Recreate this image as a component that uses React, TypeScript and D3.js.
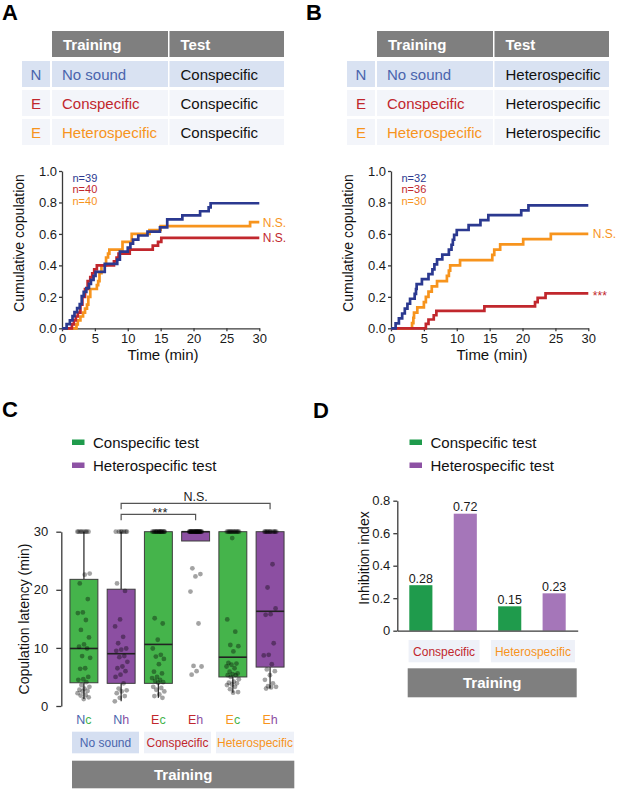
import { useEffect, useRef } from 'react';
import * as d3 from 'd3';

const FONT = '"Liberation Sans", Arial, Helvetica, sans-serif';

const BLUE = '#2b3990';
const RED = '#c1272d';
const ORANGE = '#f7941d';
const TXT_BLUE = '#4a65ad';
const GREY = '#7f7f7f';
const GREEN_BOX = '#45b44b';
const PURPLE_BOX = '#8c4fa2';
const GREEN_KEY = '#1f9b4c';
const PURPLE_KEY = '#8d52a4';
const GREEN_BAR = '#1f9b4c';
const PURPLE_BAR = '#a576b9';

// tables A and B
const tableHead = ['Training', 'Test'];
const trainCodes = ['N', 'E', 'E'];
const trainNames = ['No sound', 'Conspecific', 'Heterospecific'];
const trainColors = [TXT_BLUE, RED, ORANGE];
const testA = 'Conspecific';
const testB = 'Heterospecific';

// cumulative copulation: [minute, fraction] at each step
const aNoSound: [number, number][] = [
  [0.7, 0.026], [1.2, 0.051], [1.6, 0.077], [1.9, 0.103], [2.3, 0.128], [2.7, 0.154],
  [3.0, 0.205], [3.3, 0.231], [3.7, 0.256], [4.1, 0.282], [4.4, 0.308], [4.8, 0.333],
  [5.1, 0.359], [6.5, 0.41], [8.4, 0.436], [8.8, 0.487], [10.0, 0.513], [10.4, 0.538],
  [10.8, 0.564], [11.6, 0.59], [13.0, 0.615], [14.9, 0.641], [16.0, 0.692], [18.3, 0.718],
  [21.0, 0.744], [22.3, 0.769], [22.6, 0.795],
];
const aConspecific: [number, number][] = [
  [1.5, 0.025], [1.8, 0.05], [2.1, 0.075], [2.4, 0.1], [2.8, 0.15], [3.1, 0.2], [3.5, 0.25],
  [3.9, 0.3], [4.3, 0.325], [4.6, 0.35], [4.9, 0.375], [5.3, 0.4], [7.9, 0.425], [8.3, 0.45],
  [8.6, 0.475], [10.3, 0.5], [13.8, 0.525], [14.6, 0.55], [15.1, 0.575],
];
const aHeterospecific: [number, number][] = [
  [2.2, 0.025], [2.4, 0.05], [2.8, 0.075], [3.2, 0.1], [3.5, 0.125], [3.8, 0.15], [4.0, 0.2],
  [4.3, 0.25], [5.3, 0.275], [5.5, 0.3], [5.7, 0.35], [6.0, 0.4], [6.7, 0.45], [7.0, 0.475],
  [7.2, 0.5], [9.2, 0.55], [10.6, 0.6], [13.3, 0.625], [15.0, 0.65], [28.6, 0.675],
];
const bNoSound: [number, number][] = [
  [0.7, 0.031], [1.2, 0.063], [1.7, 0.094], [2.1, 0.125], [2.5, 0.156], [2.9, 0.188],
  [3.6, 0.219], [3.8, 0.25], [3.9, 0.281], [4.7, 0.313], [5.7, 0.344], [6.3, 0.375],
  [6.6, 0.406], [7.0, 0.438], [7.8, 0.469], [8.8, 0.5], [9.2, 0.531], [9.4, 0.563],
  [9.6, 0.594], [10.0, 0.625], [11.8, 0.656], [13.6, 0.688], [14.8, 0.719], [19.8, 0.75],
  [20.9, 0.781],
];
const bConspecific: [number, number][] = [
  [5.3, 0.028], [5.7, 0.056], [6.5, 0.083], [6.9, 0.111], [14.2, 0.139], [21.9, 0.167],
  [22.3, 0.194], [23.5, 0.222],
];
const bHeterospecific: [number, number][] = [
  [3.2, 0.033], [3.4, 0.067], [3.5, 0.1], [4.0, 0.133], [5.0, 0.167], [5.3, 0.2], [5.7, 0.233],
  [6.2, 0.267], [7.0, 0.3], [8.5, 0.333], [8.8, 0.367], [9.0, 0.4], [10.5, 0.433],
  [15.4, 0.467], [15.7, 0.5], [16.6, 0.533], [20.1, 0.567], [24.3, 0.6],
];
const lineColors = [BLUE, RED, ORANGE];
const aCounts = ['n=39', 'n=40', 'n=40'];
const bCounts = ['n=32', 'n=36', 'n=30'];
const aMarks = ['', 'N.S.', 'N.S.'];
const bMarks = ['', '***', 'N.S.'];
const timeTicks = [0, 5, 10, 15, 20, 25, 30];
const fracTicks = [0, 0.2, 0.4, 0.6, 0.8, 1.0];

// panel C: copulation latency (min), 30 = no copulation
const cKeys = ['Nc', 'Nh', 'Ec1', 'Eh1', 'Ec2', 'Eh2'];
const cTrainLetter = ['N', 'N', 'E', 'E', 'E', 'E'];
const cTestLetter = ['c', 'h', 'c', 'h', 'c', 'h'];
const cTrainColor = [TXT_BLUE, TXT_BLUE, RED, RED, ORANGE, ORANGE];
const cTestColor = [GREEN_BOX, PURPLE_BOX, GREEN_BOX, PURPLE_BOX, GREEN_BOX, PURPLE_BOX];
const boxLow = [1.2, 0.8, 1.4, 28.4, 2.3, 3.0];
const boxQ1 = [4.0, 3.9, 3.9, 28.4, 5.0, 6.7];
const boxMedian = [9.9, 9.0, 10.6, 30, 8.4, 16.3];
const boxQ3 = [21.8, 20.1, 30, 30, 30, 30];
const boxHigh = [30, 30, 30, 30, 30, 30];
const latNc = [30, 30, 30, 30, 30, 30, 30, 30, 22.8, 22.6, 21.1, 18.4, 16.1, 16.0, 14.8, 13.1,
  11.8, 10.6, 10.2, 9.9, 8.6, 8.3, 6.5, 6.4, 5.0, 4.6, 4.5, 4.1, 3.6, 3.3, 3.0, 2.8, 2.6, 2.5,
  2.2, 1.9, 1.8, 1.5, 1.2];
const latNh = [30, 30, 30, 30, 30, 30, 30, 21.1, 19.8, 14.9, 13.7, 11.9, 10.8, 9.9, 9.7, 9.5,
  8.6, 8.4, 7.6, 6.8, 6.5, 6.0, 5.4, 5.0, 3.9, 3.0, 2.7, 2.5, 2.2, 1.7, 1.4, 0.8];
const latEcCon = [30, 30, 30, 30, 30, 30, 30, 30, 30, 30, 30, 30, 30, 30, 30, 30, 30, 15.1, 14.2,
  11.4, 9.9, 8.8, 8.5, 8.1, 7.2, 5.9, 5.6, 5.0, 4.8, 4.5, 4.3, 4.1, 4.0, 3.3, 3.1, 2.8, 2.5, 2.0,
  1.7, 1.4];
const latEhCon = [30, 30, 30, 30, 30, 30, 30, 30, 30, 30, 30, 30, 30, 30, 30, 30, 30, 30, 30, 30,
  30, 30, 30, 30, 30, 30, 30, 23.7, 22.7, 22.3, 19.7, 14.2, 6.9, 6.8, 6.0, 5.4];
const latEcHet = [30, 30, 30, 30, 30, 30, 30, 30, 30, 30, 30, 30, 30, 28.9, 14.9, 12.8, 10.5,
  10.3, 9.4, 7.4, 7.3, 7.1, 6.8, 6.5, 5.9, 5.6, 5.5, 5.3, 5.3, 5.0, 4.6, 4.2, 4.0, 3.9, 3.7, 3.6,
  3.3, 2.9, 2.4, 2.3];
const latEhHet = [30, 30, 30, 30, 30, 30, 30, 30, 30, 30, 30, 30, 24.4, 20.4, 16.8, 15.8, 15.7,
  10.8, 8.8, 8.7, 7.2, 6.3, 6.0, 5.3, 4.5, 3.9, 3.4, 3.3, 3.2, 3.0];
const cPoints = [latNc, latNh, latEcCon, latEhCon, latEcHet, latEhHet];
const cGroups = ['No sound', 'Conspecific', 'Heterospecific'];
const latencyTicks = [0, 10, 20, 30];

// panel D: inhibition index
const dKeys = ['Cc', 'Ch', 'Hc', 'Hh'];
const dValues = [0.28, 0.72, 0.15, 0.23];
const dColors = [GREEN_BAR, PURPLE_BAR, GREEN_BAR, PURPLE_BAR];
const dGroups = ['Conspecific', 'Heterospecific'];
const dGroupColors = [RED, ORANGE];
const indexTicks = [0, 0.2, 0.4, 0.6, 0.8];

const legendLabels = ['Conspecific test', 'Heterospecific test'];

function Axis({ axis, transform, size = 13 }: { axis: any; transform: string; size?: number }) {
  const ref = useRef<SVGGElement>(null);
  useEffect(() => {
    const g = d3.select(ref.current as SVGGElement);
    g.selectAll('*').remove();
    g.call(axis);
    g.attr('font-family', FONT).attr('font-size', size);
    g.selectAll('text').attr('fill', '#1a1a1a');
    g.selectAll('path,line').attr('stroke', '#3a3a3a').attr('stroke-width', 1.3);
  });
  return <g ref={ref} transform={transform} />;
}

function Table({ x0, test }: { x0: number; test: string }) {
  const codeW = 28;
  const trainX = x0 + 30;
  const trainW = 116;
  const testX = x0 + 147.5;
  const testW = 114.5;
  const rowH = 26;
  return (
    <g fontFamily={FONT} fontSize={15}>
      <rect x={trainX} y={31} width={trainW} height={rowH} fill={GREY} />
      <rect x={testX} y={31} width={testW} height={rowH} fill={GREY} />
      <text x={trainX + 11} y={49.5} fill="#fff" fontWeight="bold">{tableHead[0]}</text>
      <text x={testX + 11} y={49.5} fill="#fff" fontWeight="bold">{tableHead[1]}</text>
      {trainNames.map((name, i) => {
        const y = 61 + i * 29;
        const bg = i === 0 ? '#d9e2f2' : '#f3f5fa';
        return (
          <g key={i}>
            <rect x={x0} y={y} width={codeW} height={rowH} fill={bg} />
            <rect x={trainX} y={y} width={trainW} height={rowH} fill={bg} />
            <rect x={testX} y={y} width={testW} height={rowH} fill={bg} />
            <text x={x0 + codeW / 2} y={y + 18.5} textAnchor="middle" fill={trainColors[i]}>{trainCodes[i]}</text>
            <text x={trainX + 10} y={y + 18.5} fill={trainColors[i]}>{name}</text>
            <text x={testX + 11} y={y + 18.5} fill="#111">{test}</text>
          </g>
        );
      })}
    </g>
  );
}

function Cumulative({ x0, series, counts, marks, gap }: {
  x0: number; series: [number, number][][]; counts: string[]; marks: string[]; gap: number;
}) {
  const x = d3.scaleLinear().domain([0, 30]).range([x0, x0 + 197.3]);
  const y = d3.scaleLinear().domain([0, 1]).range([328.3, 171]);
  const line = d3.line<[number, number]>().x((d) => x(d[0])).y((d) => y(d[1])).curve(d3.curveStepAfter);
  const full = series.map((s) => [[0, 0], ...s, [30, s[s.length - 1][1]]] as [number, number][]);
  const order = [2, 1, 0];
  return (
    <g fontFamily={FONT}>
      <Axis
        axis={d3.axisLeft(y).tickValues(fracTicks).tickFormat(d3.format('.1f') as any).tickSize(3).tickPadding(2).tickSizeOuter(0)}
        transform={`translate(${x0},0)`}
      />
      <Axis
        axis={d3.axisBottom(x).tickValues(timeTicks).tickSize(3).tickPadding(2).tickSizeOuter(0)}
        transform="translate(0,328.3)"
      />
      {order.map((i) => (
        <path key={i} d={line(full[i]) ?? ''} fill="none" stroke={lineColors[i]} strokeWidth={2.7} />
      ))}
      {counts.map((c, i) => (
        <text key={c + i} x={x0 + 10.5} y={181.5 + i * 11.8} fontSize={11} fill={lineColors[i]}>{c}</text>
      ))}
      {marks.map((m, i) => m && (
        <text key={i} x={x(30) + gap} y={y(full[i][full[i].length - 1][1]) + (m === '***' ? 7 : 4.5)}
          fontSize={12} fill={lineColors[i]}>{m}</text>
      ))}
      <text transform={`translate(${x0 - 38},243) rotate(-90)`} textAnchor="middle" fontSize={14} fill="#111">
        Cumulative copulation
      </text>
      <text x={x0 + 101} y={360} textAnchor="middle" fontSize={15} fill="#111">Time (min)</text>
    </g>
  );
}

function Legend({ x0, colors }: { x0: number; colors: string[] }) {
  return (
    <g fontFamily={FONT} fontSize={15}>
      {legendLabels.map((l, i) => (
        <g key={l}>
          <rect x={x0} y={439.5 + i * 23} width={12.5} height={5.5} fill={colors[i]} />
          <text x={x0 + 21} y={447.5 + i * 23} fill="#111">{l}</text>
        </g>
      ))}
    </g>
  );
}

function PanelC() {
  const x = d3.scaleBand<string>().domain(cKeys).range([65.3, 288.7]).paddingInner(0.25).paddingOuter(0.125);
  const y = d3.scaleLinear().domain([0, 30]).range([706, 531.7]);
  const bw = x.bandwidth();
  const cx = (k: string) => (x(k) ?? 0) + bw / 2;
  const jit = (i: number) => (((i * 0.6180339887) % 1) - 0.5) * 13;
  const groupW = [67, 67, 78];
  const groupX = [72, 144, 216];
  const groupFill = ['#d5dff1', '#eef1f8', '#eef1f8'];
  const groupColor = [TXT_BLUE, RED, ORANGE];
  const bracket = (a: number, b: number, yy: number) =>
    `M${cx(cKeys[a])},${yy + 6}V${yy}H${cx(cKeys[b])}V${yy + 6}`;
  return (
    <g fontFamily={FONT}>
      <Legend x0={72} colors={[GREEN_KEY, PURPLE_KEY]} />
      <Axis
        axis={d3.axisLeft(y).tickValues(latencyTicks).tickSize(5).tickPadding(8).tickSizeOuter(0)}
        transform="translate(61.3,0)"
      />
      {cKeys.map((k, i) => {
        const col = i % 2 === 0 ? GREEN_BOX : PURPLE_BOX;
        const left = x(k) ?? 0;
        return (
          <g key={k}>
            <line x1={cx(k)} x2={cx(k)} y1={y(boxQ3[i])} y2={y(boxHigh[i])} stroke="#333" strokeWidth={1.3} />
            <line x1={cx(k)} x2={cx(k)} y1={y(boxQ1[i])} y2={y(boxLow[i])} stroke="#333" strokeWidth={1.3} />
            <rect x={left} y={y(boxQ3[i])} width={bw} height={y(boxQ1[i]) - y(boxQ3[i])}
              fill={col} stroke="#3d3d3d" strokeWidth={1} />
            <line x1={left} x2={left + bw} y1={y(boxMedian[i])} y2={y(boxMedian[i])} stroke="#222" strokeWidth={1.6} />
          </g>
        );
      })}
      {cKeys.map((k, i) => (
        <g key={k + 'p'}>
          {cPoints[i].map((v, j) => (
            <circle key={j} cx={cx(k) + jit(j + i * 3)} cy={y(v)} r={2.4} fill="#000" fillOpacity={0.36} />
          ))}
        </g>
      ))}
      <path d={bracket(1, 5, 503.3)} fill="none" stroke="#555" strokeWidth={1.2} />
      <path d={bracket(1, 3, 514.3)} fill="none" stroke="#555" strokeWidth={1.2} />
      <text x={(cx(cKeys[1]) + cx(cKeys[5])) / 2} y={501} textAnchor="middle" fontSize={12.5} fill="#222">N.S.</text>
      <text x={(cx(cKeys[1]) + cx(cKeys[3])) / 2 + 1.5} y={516.5} textAnchor="middle" fontSize={13} fill="#222">***</text>
      {cKeys.map((k, i) => (
        <text key={k + 't'} x={cx(k)} y={724} textAnchor="middle" fontSize={12.5}>
          <tspan fill={cTrainColor[i]}>{cTrainLetter[i]}</tspan>
          <tspan fill={cTestColor[i]}>{cTestLetter[i]}</tspan>
        </text>
      ))}
      {cGroups.map((g, i) => (
        <g key={g}>
          <rect x={groupX[i]} y={731.7} width={groupW[i]} height={21.6} fill={groupFill[i]} />
          <text x={groupX[i] + groupW[i] / 2} y={746.5} textAnchor="middle" fontSize={12} fill={groupColor[i]}>{g}</text>
        </g>
      ))}
      <rect x={72} y={760.7} width={222.3} height={27.6} fill={GREY} />
      <text x={183.2} y={779.8} textAnchor="middle" fontSize={15} fontWeight="bold" fill="#fff">Training</text>
      <text transform="translate(29,619) rotate(-90)" textAnchor="middle" fontSize={14} fill="#111">
        Copulation latency (min)
      </text>
    </g>
  );
}

function PanelD() {
  const x = d3.scaleBand<string>().domain(dKeys).range([397.3, 577.7]).paddingInner(0.48).paddingOuter(0.27);
  const y = d3.scaleLinear().domain([0, 0.8]).range([630.7, 500.7]);
  const bw = x.bandwidth();
  const cx = (k: string) => (x(k) ?? 0) + bw / 2;
  const groupW = [71, 84];
  const fmt = (d: number) => (d === 0 ? '0' : d3.format('.1f')(d));
  return (
    <g fontFamily={FONT}>
      <Legend x0={409.5} colors={[GREEN_KEY, PURPLE_KEY]} />
      {dKeys.map((k, i) => (
        <g key={k}>
          <rect x={x(k)} y={y(dValues[i])} width={bw} height={y(0) - y(dValues[i])} fill={dColors[i]} />
          <text x={cx(k)} y={y(dValues[i]) - 2.5} textAnchor="middle" fontSize={12.5} fill="#1a1a1a">
            {dValues[i].toFixed(2)}
          </text>
        </g>
      ))}
      <Axis
        axis={d3.axisLeft(y).tickValues(indexTicks).tickFormat(fmt as any).tickSize(4).tickPadding(3).tickSizeOuter(0)}
        transform="translate(397.3,0)"
      />
      <Axis axis={d3.axisBottom(x).tickValues([]).tickSizeOuter(0)} transform="translate(0,630.7)" />
      {dGroups.map((g, i) => {
        const mid = (cx(dKeys[i * 2]) + cx(dKeys[i * 2 + 1])) / 2 + 1;
        return (
          <g key={g}>
            <rect x={mid - groupW[i] / 2} y={640} width={groupW[i]} height={22.3} fill="#eef1f8" />
            <text x={mid} y={655.5} textAnchor="middle" fontSize={12} fill={dGroupColors[i]}>{g}</text>
          </g>
        );
      })}
      <rect x={407.7} y={668.3} width={169} height={29} fill={GREY} />
      <text x={492.2} y={688} textAnchor="middle" fontSize={15} fontWeight="bold" fill="#fff">Training</text>
      <text transform="translate(369,558) rotate(-90)" textAnchor="middle" fontSize={14} fill="#111">
        Inhibition index
      </text>
    </g>
  );
}

export default function App() {
  return (
    <>
      <style>{'body{margin:0}'}</style>
      <svg width={617} height={789} style={{ display: 'block', background: '#fff' }}>
        <g fontFamily={FONT} fontWeight="bold" fontSize={22} fill="#000">
          <text x={2} y={20}>A</text>
          <text x={306} y={20}>B</text>
          <text x={2} y={417}>C</text>
          <text x={313} y={418}>D</text>
        </g>
        <Table x0={22} test={testA} />
        <Table x0={347} test={testB} />
        <Cumulative x0={62} series={[aNoSound, aConspecific, aHeterospecific]} counts={aCounts} marks={aMarks} gap={3.5} />
        <Cumulative x0={391} series={[bNoSound, bConspecific, bHeterospecific]} counts={bCounts} marks={bMarks} gap={4.5} />
        <PanelC />
        <PanelD />
      </svg>
    </>
  );
}
